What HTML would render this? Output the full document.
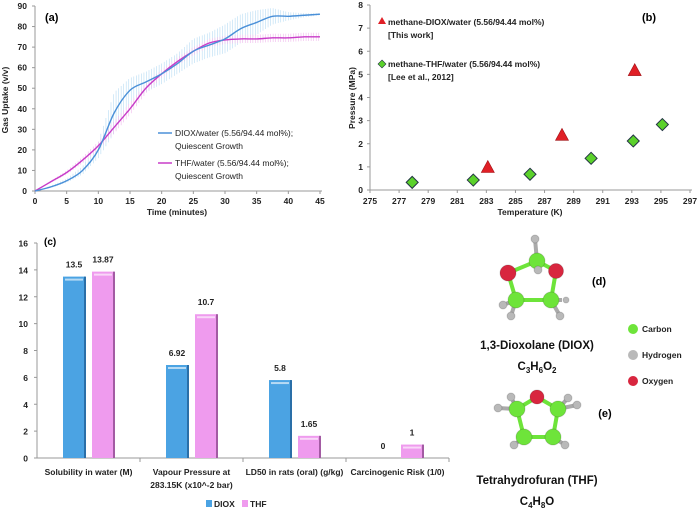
<!DOCTYPE html>
<html><head><meta charset="utf-8"><style>
body{margin:0;background:#fff}
svg{display:block;font-family:"Liberation Sans",sans-serif}
.t{font-size:8.5px;font-weight:bold;fill:#222}
</style></head><body>
<svg id="s" width="700" height="511" viewBox="0 0 700 511">
<g id="ga"></g>
<g id="gb"></g>
<g id="gc"></g>
<g id="gm"></g>
</svg>
<script>
// Panel (a) data
const aTime=[0,2.5,5,7.5,10,12.5,15,17.5,20,22.5,25,27.5,30,32.5,35,37.5,40,42.5,45];
const aDiox=[0,2,5,10,20,38,49,53,57,62,68,71,74,79,82,85,85,85.5,86];
const aDioxErr=[0,0.5,1,2,4,10,6,5,5,5,6,6,7,7,6,4,2,1,0.5];
const aThf=[0,4.5,9,15,22,31,40,50,57,63,68,72,73.5,74,74,74.5,74.5,75,75];
const aThfErr=[0,0.5,1,1.5,2,3,3,2.5,2,2,2,2,2,2,2,2,2,2,2];
const aXTicks=[0,5,10,15,20,25,30,35,40,45];
const aYTicks=[0,10,20,30,40,50,60,70,80,90];
// Panel (b) data
const bDioxT=[283.1,288.2,293.2];
const bDioxP=[0.93,2.32,5.12];
const bThfT=[277.9,282.1,286.0,290.2,293.1,295.1];
const bThfP=[0.33,0.43,0.68,1.37,2.12,2.83];
const bXTicks=[275,277,279,281,283,285,287,289,291,293,295,297];
const bYTicks=[0,1,2,3,4,5,6,7,8];
// Panel (c) data
const cCats=[["Solubility in water (M)"],["Vapour Pressure at","283.15K (x10^-2 bar)"],["LD50 in rats (oral) (g/kg)"],["Carcinogenic Risk (1/0)"]];
const cDiox=[13.5,6.92,5.8,0];
const cThf=[13.87,10.7,1.65,1];
const cYTicks=[0,2,4,6,8,10,12,14,16];

const NS="http://www.w3.org/2000/svg";
function mk(p,tag,at,txt){const e=document.createElementNS(NS,tag);for(const k in at)e.setAttribute(k,at[k]);if(txt!==undefined)e.textContent=txt;p.appendChild(e);return e;}

// ---- Panel a
const ga=document.getElementById('ga');
const ax=v=>35+v*(285/45), ay=v=>191-v*(185/90);
let e;
e=mk(ga,'line',{x1:35,y1:6,x2:35,y2:191,stroke:'#999'});


e=mk(ga,'line',{x1:35,y1:191,x2:322,y2:191,stroke:'#999'});


aYTicks.forEach(v=>{e=mk(ga,'text',{x:27,y:ay(v)+3,'text-anchor':'end',class:'t'},v);


mk(ga,'line',{x1:32,x2:35,y1:ay(v),y2:ay(v),stroke:'#999'});});
aXTicks.forEach(v=>{e=mk(ga,'text',{x:ax(v),y:204,'text-anchor':'middle',class:'t'},v);


mk(ga,'line',{x1:ax(v),x2:ax(v),y1:191,y2:194,stroke:'#999'});});
function interp(xs,ys,x){for(let i=0;i<xs.length-1;i++){if(x<=xs[i+1]){const t=(x-xs[i])/(xs[i+1]-xs[i]);return ys[i]+t*(ys[i+1]-ys[i]);}}return ys[ys.length-1];}
function band(ys,err,col,name){const g=mk(ga,'g',{});


for(let x=0;x<=45;x+=0.4){const y=interp(aTime,ys,x),er=interp(aTime,err,x);mk(g,'line',{x1:ax(x),x2:ax(x),y1:ay(y-er),y2:ay(y+er),stroke:col,'stroke-width':0.6});}}
band(aDiox,aDioxErr,'#b8dcf4','diox-error-band');
band(aThf,aThfErr,'#f0b8ec','thf-error-band');
function smooth(xs,ys){let d='M'+ax(xs[0])+','+ay(ys[0]);for(let i=0;i<xs.length-1;i++){const p0=i?i-1:i,p3=i+2<xs.length?i+2:i+1;const x1=ax(xs[i])+(ax(xs[i+1])-ax(xs[p0]))/6,y1=ay(ys[i])+(ay(ys[i+1])-ay(ys[p0]))/6,x2=ax(xs[i+1])-(ax(xs[p3])-ax(xs[i]))/6,y2=ay(ys[i+1])-(ay(ys[p3])-ay(ys[i]))/6;d+=` C${x1},${y1} ${x2},${y2} ${ax(xs[i+1])},${ay(ys[i+1])}`;}return d;}
e=mk(ga,'path',{d:smooth(aTime,aThf),fill:'none',stroke:'#c83cc8','stroke-width':1.4});


e=mk(ga,'path',{d:smooth(aTime,aDiox),fill:'none',stroke:'#4a90d8','stroke-width':1.4});


e=mk(ga,'text',{x:45,y:21,'font-size':11,'font-weight':'bold'},'(a)');


e=mk(ga,'text',{x:177,y:215,'text-anchor':'middle',class:'t'},'Time (minutes)');


e=mk(ga,'text',{x:8,y:100,'text-anchor':'middle',class:'t',transform:'rotate(-90 8 100)'},'Gas Uptake (v/v)');


[[136,'#4a90d8','DIOX/water (5.56/94.44 mol%);'],[166,'#c83cc8','THF/water (5.56/94.44 mol%);']].forEach(([y,c,t])=>{
const g=mk(ga,'g',{});


mk(g,'line',{x1:158,x2:172,y1:y-3,y2:y-3,stroke:c,'stroke-width':1.5});
mk(g,'text',{x:175,y:y,'font-size':8.5,fill:'#222'},t);
mk(g,'text',{x:175,y:y+13,'font-size':8.5,fill:'#222'},'Quiescent Growth');});

// ---- Panel b
const gb=document.getElementById('gb');
const bx=v=>370+(v-275)*(320/22), by=v=>190-v*(185/8);
e=mk(gb,'line',{x1:370,y1:5,x2:370,y2:190,stroke:'#999'});


e=mk(gb,'line',{x1:370,y1:190,x2:692,y2:190,stroke:'#999'});


bYTicks.forEach(v=>{e=mk(gb,'text',{x:363,y:by(v)+3,'text-anchor':'end',class:'t'},v);


mk(gb,'line',{x1:367,x2:370,y1:by(v),y2:by(v),stroke:'#999'});});
bXTicks.forEach(v=>{e=mk(gb,'text',{x:bx(v),y:204,'text-anchor':'middle',class:'t'},v);


mk(gb,'line',{x1:bx(v),x2:bx(v),y1:190,y2:193,stroke:'#999'});});
bThfT.forEach((t,i)=>{const x=bx(t),y=by(bThfP[i]);e=mk(gb,'polygon',{points:`${x},${y-6} ${x+6},${y} ${x},${y+6} ${x-6},${y}`,fill:'#5bd12b',stroke:'#234',"stroke-width":1});

});
bDioxT.forEach((t,i)=>{const x=bx(t),y=by(bDioxP[i]);e=mk(gb,'polygon',{points:`${x},${y-8} ${x+6.5},${y+4} ${x-6.5},${y+4}`,fill:'#e01f26',stroke:'#a01015',"stroke-width":0.6});

});
e=mk(gb,'text',{x:642,y:21,'font-size':11,'font-weight':'bold'},'(b)');


e=mk(gb,'text',{x:530,y:215,'text-anchor':'middle',class:'t'},'Temperature (K)');


e=mk(gb,'text',{x:355,y:98,'text-anchor':'middle',class:'t',transform:'rotate(-90 355 98)'},'Pressure (MPa)');


let g=mk(gb,'g',{});


mk(g,'polygon',{points:'382,17 386,24 378,24',fill:'#e01f26'});
mk(g,'text',{x:388,y:25,'font-size':8.5,'font-weight':'bold',fill:'#222'},'methane-DIOX/water (5.56/94.44 mol%)');
mk(g,'text',{x:388,y:38,'font-size':8.5,'font-weight':'bold',fill:'#222'},'[This work]');
g=mk(gb,'g',{});


mk(g,'polygon',{points:'382,60 386,64 382,68 378,64',fill:'#5bd12b',stroke:'#234','stroke-width':0.6});
mk(g,'text',{x:388,y:67,'font-size':8.5,'font-weight':'bold',fill:'#222'},'methane-THF/water (5.56/94.44 mol%)');
mk(g,'text',{x:388,y:80,'font-size':8.5,'font-weight':'bold',fill:'#222'},'[Lee et al., 2012]');

// ---- Panel c
const gc=document.getElementById('gc');
const cy=v=>458-v*(215/16), gw=103, cx0=37;
e=mk(gc,'line',{x1:37,y1:243,x2:37,y2:458,stroke:'#999'});


e=mk(gc,'line',{x1:37,y1:458,x2:449,y2:458,stroke:'#999'});


cYTicks.forEach(v=>{e=mk(gc,'text',{x:28,y:cy(v)+3.5,'text-anchor':'end',class:'t','font-size':9},v);


mk(gc,'line',{x1:34,x2:37,y1:cy(v),y2:cy(v),stroke:'#999'});});
cCats.forEach((lines,i)=>{const gx=cx0+i*gw;mk(gc,'line',{x1:gx+gw,x2:gx+gw,y1:458,y2:462,stroke:'#999'});
lines.forEach((l,j)=>{e=mk(gc,'text',{x:gx+gw/2,y:475+j*13,'text-anchor':'middle',class:'t','font-size':8.5},l);

});
[[cDiox[i],gx+26,'#4ba3e3','#2a6fa8','diox-bar'],[cThf[i],gx+55,'#ef9bee','#a35ba3','thf-bar']].forEach(([v,x,f,s,n])=>{
if(v>0){e=mk(gc,'rect',{x:x,y:cy(v),width:22,height:458-cy(v),fill:f});


mk(gc,'rect',{x:x+21,y:cy(v),width:2,height:458-cy(v),fill:s});
mk(gc,'rect',{x:x+2,y:cy(v)+2,width:18,height:2,fill:'#fff',opacity:0.6});}
e=mk(gc,'text',{x:x+11,y:cy(v)-9,'text-anchor':'middle',class:'t','font-size':9},v);

});});
e=mk(gc,'text',{x:44,y:245,'font-size':10,'font-weight':'bold'},'(c)');


g=mk(gc,'g',{});


mk(g,'rect',{x:206,y:500,width:6,height:7,fill:'#4ba3e3'});
mk(g,'text',{x:214,y:507,class:'t'},'DIOX');
mk(g,'rect',{x:242,y:500,width:6,height:7,fill:'#ef9bee'});
mk(g,'text',{x:250,y:507,class:'t'},'THF');

// ---- Molecules
const gm=document.getElementById('gm');
const CC='#6ee43a',HC='#b9b9b9',OC='#d8263f';
function bonds(list,col){list.forEach(([a,b])=>mk(gm,'line',{x1:a[0],y1:a[1],x2:b[0],y2:b[1],stroke:col,'stroke-width':4}));}
function atoms(list){list.forEach(([x,y,c,r])=>{mk(gm,'circle',{cx:x,cy:y,r:r,fill:c,stroke:'rgba(0,0,0,0.15)'});});}
// DIOX
const dC1=[537,261],dO1=[508,273],dO2=[556,271],dC2=[516,300],dC3=[551,300];
bonds([[dC1,[535,239]],[dC2,[503,305]],[dC2,[511,316]],[dC3,[560,316]],[dC3,[562,300]],[dC1,[538,270]]],'#aaa');
bonds([[dC1,dO1],[dC1,dO2],[dO1,dC2],[dO2,dC3],[dC2,dC3]],CC);
atoms([[535,239,HC,4],[503,305,HC,4],[511,316,HC,4],[560,316,HC,4],[566,300,HC,3],[dC2[0],dC2[1],CC,8],[dC3[0],dC3[1],CC,8],[dO1[0],dO1[1],OC,8],[dO2[0],dO2[1],OC,7.5],[dC1[0],dC1[1],CC,8],[538,270,HC,4]]);
// THF
const tO=[537,397],tC1=[517,409],tC2=[558,409],tC3=[524,437],tC4=[553,437];
bonds([[tC1,[498,408]],[tC1,[511,397]],[tC2,[568,398]],[tC2,[577,405]],[tC3,[514,445]],[tC4,[565,445]]],'#aaa');
bonds([[tO,tC1],[tO,tC2],[tC1,tC3],[tC2,tC4],[tC3,tC4]],CC);
atoms([[498,408,HC,4],[511,397,HC,4],[568,398,HC,4],[577,405,HC,4],[514,445,HC,4],[565,445,HC,4],[tC3[0],tC3[1],CC,8],[tC4[0],tC4[1],CC,8],[tC1[0],tC1[1],CC,8],[tC2[0],tC2[1],CC,8],[tO[0],tO[1],OC,7]]);
[[599,285,'(d)','d-panel-label'],[605,417,'(e)','e-panel-label']].forEach(([x,y,t,n])=>{e=mk(gm,'text',{x:x,y:y,'font-size':11,'font-weight':'bold','text-anchor':'middle'},t);

});
[[329,CC,'Carbon'],[355,HC,'Hydrogen'],[381,OC,'Oxygen']].forEach(([y,c,t])=>{const gg=mk(gm,'g',{});


mk(gg,'circle',{cx:633,cy:y,r:5,fill:c});mk(gg,'text',{x:642,y:y+3,class:'t','font-size':8.5},t);});
function name(y,t,n){e=mk(gm,'text',{x:537,y:y,'text-anchor':'middle','font-size':11.5,'font-weight':'bold',fill:'#111'},t);

}
name(349,'1,3-Dioxolane (DIOX)','diox-name');
name(484,'Tetrahydrofuran (THF)','thf-name');
function formula(y,parts,n){const t=mk(gm,'text',{x:537,y:y,'text-anchor':'middle','font-size':11.5,'font-weight':'bold',fill:'#111'});


parts.forEach(([s,sub])=>{const ts=mk(t,'tspan',sub?{'font-size':8,dy:3}:{dy:sub===false?-3:0},s);});}
formula(370,[['C',0],['3',1],['H',false],['6',1],['O',false],['2',1]],'diox-formula');
formula(505,[['C',0],['4',1],['H',false],['8',1],['O',false]],'thf-formula');
</script>
</body></html>
